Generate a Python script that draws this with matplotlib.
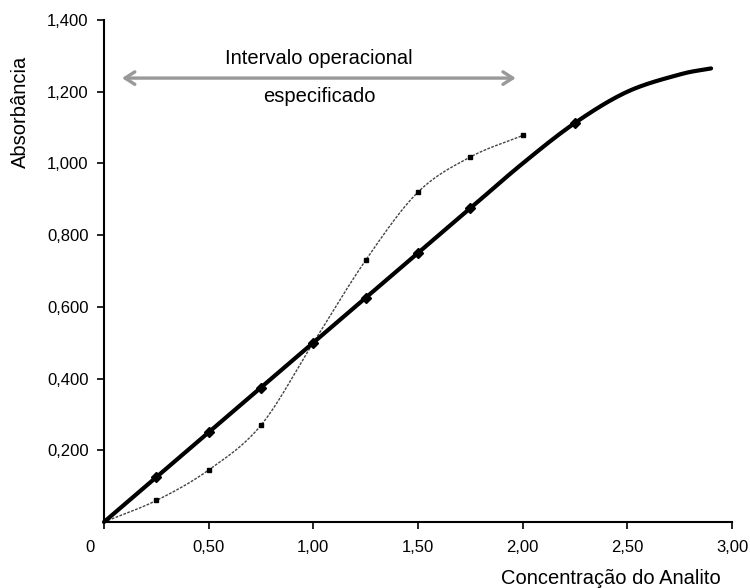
import numpy as np
import matplotlib
matplotlib.use("Agg")
import matplotlib.pyplot as plt
from matplotlib.transforms import ScaledTranslation

plt.rcParams['font.family'] = ['Liberation Sans', 'DejaVu Sans']

# ---- data ----
thick_x = [0.0, 0.25, 0.50, 0.75, 1.00, 1.25, 1.50, 1.75, 2.00, 2.25, 2.50, 2.75, 2.90]
thick_y = [0.0, 0.125, 0.250, 0.375, 0.500, 0.625, 0.750, 0.875, 1.000, 1.113, 1.200, 1.248, 1.265]
thick_marked = [1, 2, 3, 4, 5, 6, 7, 9]

thin_x = [0.0, 0.25, 0.50, 0.75, 1.00, 1.25, 1.50, 1.75, 2.00]
thin_y = [0.0, 0.060, 0.145, 0.270, 0.500, 0.730, 0.920, 1.018, 1.078]

x_ticks = [0, 0.5, 1.0, 1.5, 2.0, 2.5, 3.0]
x_ticklabels = ['0', '0,50', '1,00', '1,50', '2,00', '2,50', '3,00']
y_ticks = [0.2, 0.4, 0.6, 0.8, 1.0, 1.2, 1.4]
y_ticklabels = ['0,200', '0,400', '0,600', '0,800', '1,000', '1,200', '1,400']

range_start, range_end, range_level = 0.086, 1.967, 1.238
range_text_top = 'Intervalo operacional'
range_text_bottom = 'especificado'
x_title = 'Concentração do Analito'
y_title = 'Absorbância'


def smooth(xs, ys, n=30):
    """Cardinal (Catmull-Rom) spline through the given points, like a smoothed line."""
    p = np.column_stack([xs, ys]).astype(float)
    ext = np.vstack([p[0] - (p[1] - p[0]), p, p[-1] + (p[-1] - p[-2])])
    out = []
    for i in range(1, len(ext) - 2):
        p0, p1, p2, p3 = ext[i - 1], ext[i], ext[i + 1], ext[i + 2]
        t = np.linspace(0, 1, n, endpoint=False)[:, None]
        c1 = p1 + (p2 - p0) / 6.0
        c2 = p2 - (p3 - p1) / 6.0
        b = ((1 - t) ** 3) * p1 + 3 * ((1 - t) ** 2) * t * c1 + 3 * (1 - t) * t ** 2 * c2 + t ** 3 * p2
        out.append(b)
    out.append(p[-1][None, :])
    out = np.vstack(out)
    return out[:, 0], out[:, 1]


W, H, DPI = 750, 588, 100
fig = plt.figure(figsize=(W / DPI, H / DPI), dpi=DPI)
left, right, bottom, top = 104, 732, 522, 20
ax = fig.add_axes([left / W, 1 - bottom / H, (right - left) / W, (bottom - top) / H])

# thin curve
sx, sy = smooth(thin_x, thin_y)
ax.plot(sx, sy, color='#444444', lw=1.0, linestyle=(0, (2, 1)), clip_on=False, zorder=3)
ax.plot(thin_x[1:], thin_y[1:], linestyle='none', marker='s', ms=3.2, color='black',
        clip_on=False, zorder=4)

# thick curve
tx, ty = smooth(thick_x, thick_y)
ax.plot(tx, ty, color='black', lw=3.0, solid_capstyle='round', clip_on=False, zorder=5)
ax.plot([thick_x[i] for i in thick_marked], [thick_y[i] for i in thick_marked],
        linestyle='none', marker='D', ms=5, color='black', clip_on=False, zorder=6)

# operational range arrow
ax.annotate('', xy=(range_start, range_level), xytext=(range_end, range_level),
            arrowprops=dict(arrowstyle='<->,head_length=0.7,head_width=0.45',
                            color='#999999', lw=2.4, shrinkA=0, shrinkB=0))
mid = (range_start + range_end) / 2
ax.text(mid, range_level, range_text_top, ha='center', va='bottom', fontsize=14.5,
        transform=ax.transData + ScaledTranslation(0, 10 / DPI, fig.dpi_scale_trans))
ax.text(mid, range_level, range_text_bottom, ha='center', va='top', fontsize=14.5,
        transform=ax.transData + ScaledTranslation(0, -9 / DPI, fig.dpi_scale_trans))

ax.set_xlim(0, 3.0)
ax.set_ylim(0, 1.4)
ax.set_xticks(x_ticks)
ax.set_xticklabels(x_ticklabels, fontsize=12)
ax.set_yticks(y_ticks)
ax.set_yticklabels(y_ticklabels, fontsize=12)
ax.tick_params(axis='both', direction='out', length=5, width=1.2, color='black', pad=6)
ax.tick_params(axis='x', pad=8)

# shift the "0" x tick label to the left like the reference
lbl0 = ax.get_xticklabels()[0]
lbl0.set_transform(lbl0.get_transform() + ScaledTranslation(-14 / DPI, 0, fig.dpi_scale_trans))

for s in ['top', 'right']:
    ax.spines[s].set_visible(False)
for s in ['left', 'bottom']:
    ax.spines[s].set_linewidth(1.5)
    ax.spines[s].set_color('black')

fig.text(20 / W, 1 - 112 / H, y_title, rotation=90, ha='center', va='center', fontsize=14.5)
fig.text(611 / W, 1 - 578 / H, x_title, ha='center', va='center', fontsize=14.5)

fig.savefig('out.png', dpi=DPI)
